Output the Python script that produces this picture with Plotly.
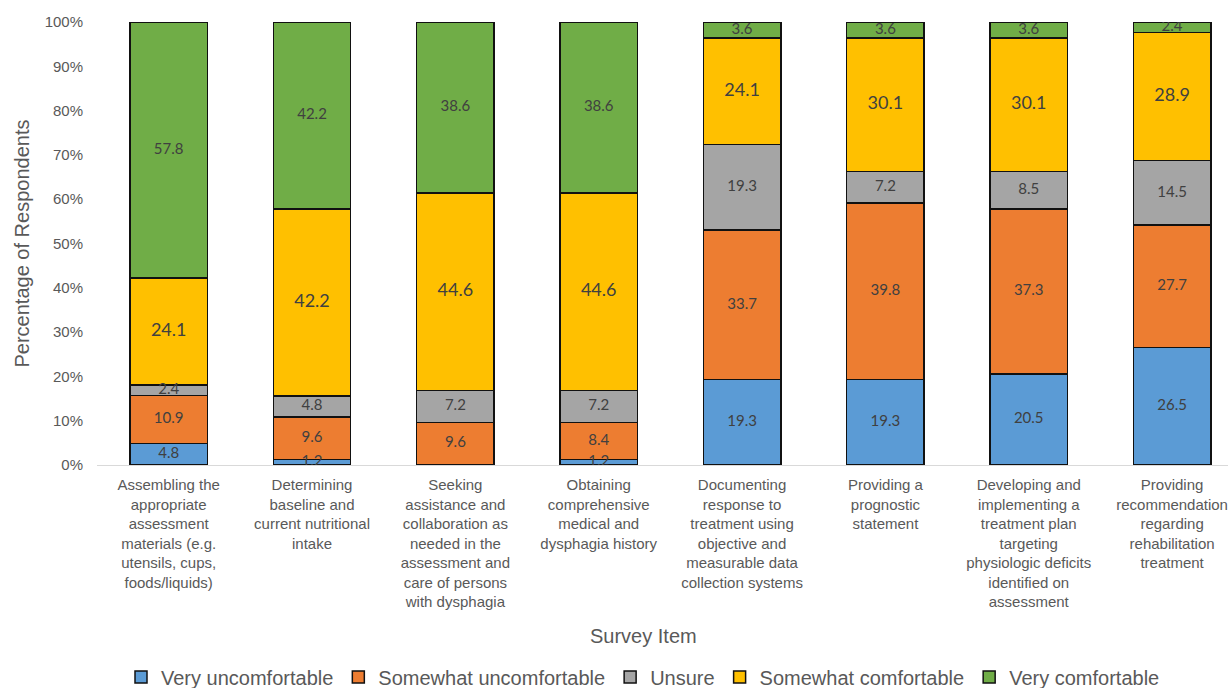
import plotly.graph_objects as go

# Survey items (x categories)
items = [
    "Assembling the<br>appropriate<br>assessment<br>materials (e.g.<br>utensils, cups,<br>foods/liquids)",
    "Determining<br>baseline and<br>current nutritional<br>intake",
    "Seeking<br>assistance and<br>collaboration as<br>needed in the<br>assessment and<br>care of persons<br>with dysphagia",
    "Obtaining<br>comprehensive<br>medical and<br>dysphagia history",
    "Documenting<br>response to<br>treatment using<br>objective and<br>measurable data<br>collection systems",
    "Providing a<br>prognostic<br>statement",
    "Developing and<br>implementing a<br>treatment plan<br>targeting<br>physiologic deficits<br>identified on<br>assessment",
    "Providing<br>recommendation<br>regarding<br>rehabilitation<br>treatment",
]

# Percentage of respondents per comfort level
very_uncomfortable = [4.8, 1.2, 0.0, 1.2, 19.3, 19.3, 20.5, 26.5]
somewhat_uncomfortable = [10.9, 9.6, 9.6, 8.4, 33.7, 39.8, 37.3, 27.7]
unsure = [2.4, 4.8, 7.2, 7.2, 19.3, 7.2, 8.5, 14.5]
somewhat_comfortable = [24.1, 42.2, 44.6, 44.6, 24.1, 30.1, 30.1, 28.9]
very_comfortable = [57.8, 42.2, 38.6, 38.6, 3.6, 3.6, 3.6, 2.4]

series = [
    ("Very uncomfortable", very_uncomfortable, "#5B9BD5", 15),
    ("Somewhat uncomfortable", somewhat_uncomfortable, "#ED7D31", 15),
    ("Unsure", unsure, "#A5A5A5", 15),
    ("Somewhat comfortable", somewhat_comfortable, "#FFC000", 18),
    ("Very comfortable", very_comfortable, "#70AD47", 15),
]

xs = list(range(len(items)))
fig = go.Figure()

base = [0.0] * len(items)
label_x, label_y, label_t, label_s = [], [], [], []
for name, vals, color, fsize in series:
    fig.add_trace(go.Bar(
        x=xs, y=vals, name=name,
        marker=dict(color=color, line=dict(color="#111111", width=1.5)),
        hoverinfo="skip",
    ))
    for i, v in enumerate(vals):
        if v > 0:
            label_x.append(i)
            label_y.append(base[i] + v / 2)
            label_t.append(f"{v:.1f}")
            label_s.append(fsize)
        base[i] += v

# value labels centred in each segment
for size in sorted(set(label_s)):
    idx = [k for k, s in enumerate(label_s) if s == size]
    fig.add_trace(go.Scatter(
        x=[label_x[k] for k in idx], y=[label_y[k] for k in idx],
        text=[label_t[k] for k in idx], mode="text",
        textposition="middle center",
        textfont=dict(family="Lato, Noto Sans, sans-serif", size=size, color="#404040"),
        showlegend=False, hoverinfo="skip",
    ))

FONT = "Liberation Sans, Arial, sans-serif"
GREY = "#595959"
axis_font = dict(family=FONT, size=15, color=GREY)

fig.update_layout(
    width=1228, height=688,
    margin=dict(l=97, r=0, t=22, b=223, autoexpand=False),
    barmode="stack",
    bargap=0.46,
    plot_bgcolor="white",
    paper_bgcolor="white",
    showlegend=True,
    legend=dict(
        orientation="h", xref="container", yref="container",
        x=643 / 1228, xanchor="center", y=1 - 677 / 688, yanchor="middle",
        font=dict(family=FONT, size=20, color=GREY),
        traceorder="normal", itemwidth=30,
    ),
    xaxis=dict(
        range=[-0.5, 7.39],
        tickmode="array", tickvals=xs, ticktext=items,
        tickangle=0, tickfont=axis_font,
        showline=True, linecolor="#D9D9D9", linewidth=1,
        showgrid=False, ticks="", ticklabelstandoff=6,
        zeroline=False, automargin=False,
    ),
    yaxis=dict(
        range=[0, 100], tickmode="array",
        tickvals=list(range(0, 101, 10)),
        ticktext=[f"{v}%" for v in range(0, 101, 10)],
        tickfont=axis_font, showgrid=False, showline=False,
        zeroline=False, ticks="", ticklabelstandoff=13, automargin=False,
    ),
)

# axis titles placed in pixel terms relative to the plot area
plot_w = 1228 - 97
plot_h = 688 - 22 - 223
fig.add_annotation(text="Survey Item", x=(643 - 97) / plot_w, y=-(636 - 465) / plot_h,
                   xref="paper", yref="paper", xanchor="center", yanchor="middle",
                   showarrow=False, font=dict(family=FONT, size=20, color=GREY))
fig.add_annotation(text="Percentage of Respondents", textangle=-90,
                   x=-(97 - 21) / plot_w, y=0.5, xref="paper", yref="paper",
                   xanchor="center", yanchor="middle",
                   showarrow=False, font=dict(family=FONT, size=20, color=GREY))

fig.write_html("out.html")
